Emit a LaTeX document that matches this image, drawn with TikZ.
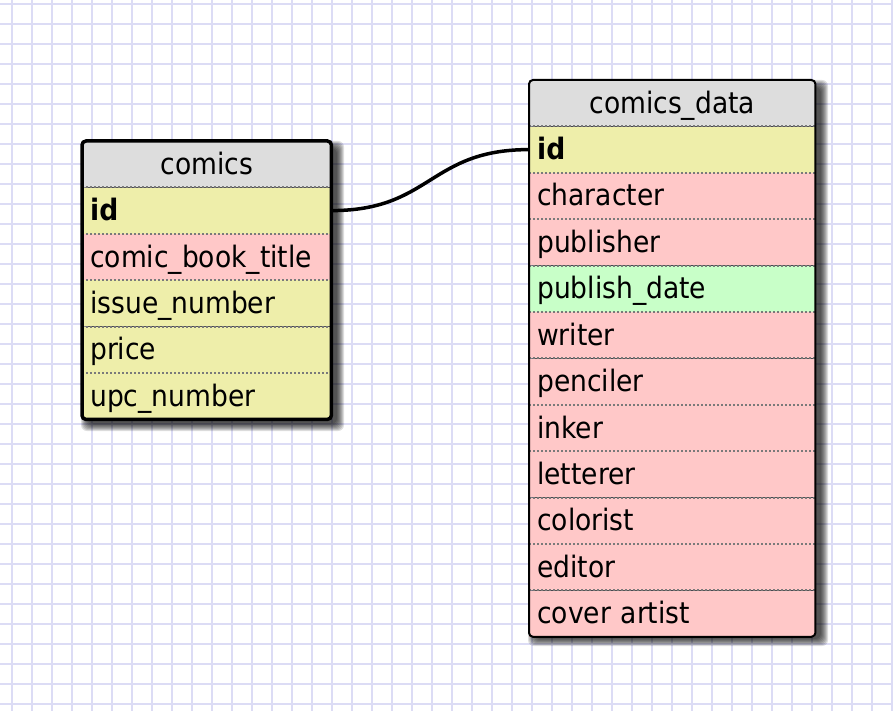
\documentclass[tikz,border=0pt]{standalone}
\usepackage{fontspec}
\setmainfont{DejaVu Sans Condensed}
\usetikzlibrary{positioning,backgrounds}
\definecolor{headGray}{HTML}{DDDDDD}
\definecolor{keyYellow}{HTML}{EEEEAA}
\definecolor{textPink}{HTML}{FFC8C8}
\definecolor{dateGreen}{HTML}{C8FFC8}
\definecolor{gridBlue}{HTML}{DCDCF5}
\definecolor{sepGray}{HTML}{7A7A7A}
\tikzset{
    field/.style={fill=#1, inner xsep=8pt, inner ysep=0pt, text height=33pt, text depth=13pt, align=left},
    rowSep/.style={sepGray, line width=2pt, dash pattern=on 2pt off 2pt},
    tableBorder/.style={black, rounded corners=4pt},
    gridLine/.style={gridBlue, line width=2pt},
    relLink/.style={black, line width=3.5pt},
    shadowLayer/.style={black, opacity=0.13, rounded corners=6pt}
}

\begin{document}
\begin{tikzpicture}[x=1pt, y=-1pt, font=\fontsize{29.5pt}{35pt}\selectfont]
			\useasboundingbox (0,0) rectangle (893,711);
			% background grid
			\begin{scope}[on background layer]
			\foreach \x in {12,32,...,892} \draw[gridLine] (\x,0) -- (\x,711);
			\foreach \y in {4,24,...,704} \draw[gridLine] (0,\y) -- (893,\y);
			% soft shadows
			\foreach \m in {0,...,7}{
				\fill[shadowLayer] (88-\m,148-\m) rectangle (337+\m,424+\m);
				\fill[shadowLayer] (535-\m,87-\m) rectangle (821+\m,639+\m);
			}
			\end{scope}
			% table comics
			\node[field=headGray, text width=233pt, align=center, anchor=north west] (comicsHead) at (82,141) {comics};
			\foreach \name/\label/\col [remember=\name as \prev (initially comicsHead)] in {
				comicsId/\textbf{id}/keyYellow,
				comicsTitle/comic\_book\_title/textPink,
				comicsIssue/issue\_number/keyYellow,
				comicsPrice/price/keyYellow,
				comicsUpc/upc\_number/keyYellow}{
				\node[field=\col, text width=233pt, below=0pt of \prev] (\name) {\label};
				\draw[rowSep] (\name.north west) -- (\name.north east);
			}
			\draw[tableBorder, line width=3.5pt] (comicsHead.north west) rectangle (comicsUpc.south east);
			% table comics_data
			\node[field=headGray, text width=270pt, align=center, anchor=north west] (dataHead) at (529,80) {comics\_data};
			\foreach \name/\label/\col [remember=\name as \prev (initially dataHead)] in {
				dataId/\textbf{id}/keyYellow,
				dataCharacter/character/textPink,
				dataPublisher/publisher/textPink,
				dataDate/publish\_date/dateGreen,
				dataWriter/writer/textPink,
				dataPenciler/penciler/textPink,
				dataInker/inker/textPink,
				dataLetterer/letterer/textPink,
				dataColorist/colorist/textPink,
				dataEditor/editor/textPink,
				dataCover/cover artist/textPink}{
				\node[field=\col, text width=270pt, below=0pt of \prev] (\name) {\label};
				\draw[rowSep] (\name.north west) -- (\name.north east);
			}
			\draw[tableBorder, line width=2pt] (dataHead.north west) rectangle (dataCover.south east);
			% relation
			\draw[relLink] (comicsId.east) .. controls +(100,0) and +(-100,0) .. (dataId.west);
		\end{tikzpicture}
\end{document}
